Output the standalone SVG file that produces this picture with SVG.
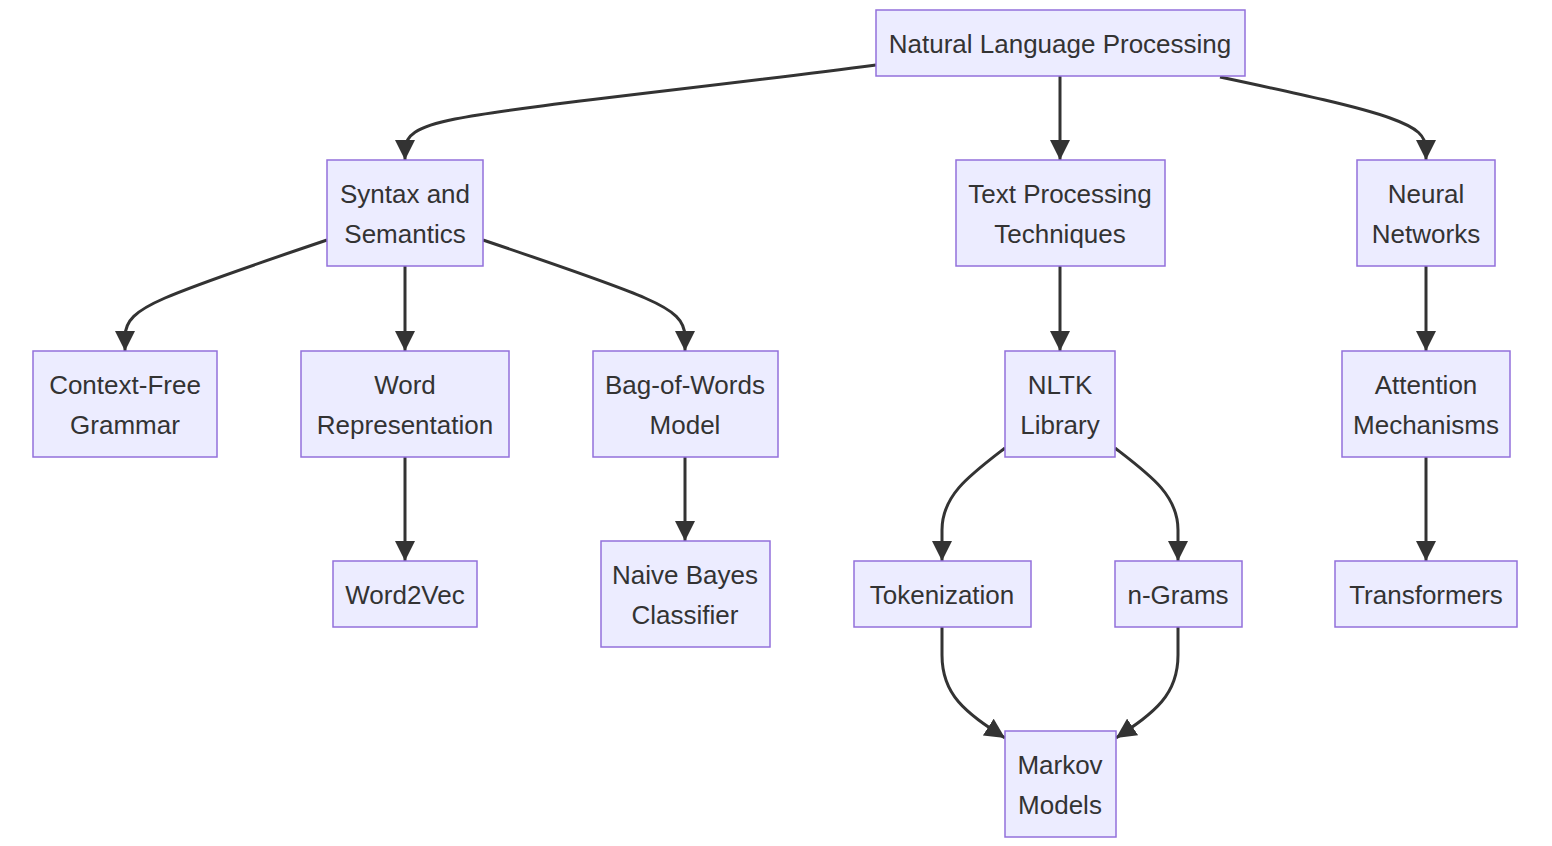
<svg xmlns="http://www.w3.org/2000/svg" width="1552" height="846" viewBox="0 0 1552 846">
<style>
.node rect{fill:#ECECFF;stroke:#9370DB;stroke-width:1.5}
.node text{font-family:"Liberation Sans",Arial,sans-serif;font-size:26px;fill:#333;text-anchor:middle}
.edges path{fill:none;stroke:#333;stroke-width:3}
</style>
<defs>
<marker id="arrow" viewBox="0 0 10 10" refX="10" refY="5" markerUnits="userSpaceOnUse" markerWidth="20" markerHeight="20" orient="auto">
<path d="M0,0 L10,5 L0,10 z" fill="#333"/>
</marker>
</defs>
<rect width="1552" height="846" fill="#fff"/>
<g class="edges">
<path marker-end="url(#arrow)" d="M876,65 C700,88 520,106 455,119 C415,127 405,136 405,150 L405,160"/>
<path marker-end="url(#arrow)" d="M1060,76 L1060,160"/>
<path marker-end="url(#arrow)" d="M1220,77 C1300,94 1360,107 1390,118 C1418,128 1426,136 1426,150 L1426,160"/>
<path marker-end="url(#arrow)" d="M327,240 C250,266 190,287 165,298 C135,311 125,321 125,337 L125,351"/>
<path marker-end="url(#arrow)" d="M405,266 L405,351"/>
<path marker-end="url(#arrow)" d="M483,240 C560,266 620,287 645,298 C675,311 685,321 685,337 L685,351"/>
<path marker-end="url(#arrow)" d="M1060,266 L1060,351"/>
<path marker-end="url(#arrow)" d="M1426,266 L1426,351"/>
<path marker-end="url(#arrow)" d="M405,457 L405,561"/>
<path marker-end="url(#arrow)" d="M685,457 L685,541"/>
<path marker-end="url(#arrow)" d="M1426,457 L1426,561"/>
<path marker-end="url(#arrow)" d="M1005,448 C970,475 942,495 942,530 L942,561"/>
<path marker-end="url(#arrow)" d="M1115,448 C1150,475 1178,495 1178,530 L1178,561"/>
<path marker-end="url(#arrow)" d="M942,627 L942,655 C942,695 965,712 1005,738"/>
<path marker-end="url(#arrow)" d="M1178,627 L1178,655 C1178,695 1155,712 1116,738"/>
</g>
<g id="nlp" class="node"><rect x="876" y="10" width="369" height="66"/><text x="1060" y="53">Natural Language Processing</text></g>
<g id="syntax" class="node"><rect x="327" y="160" width="156" height="106"/><text x="405" y="203">Syntax and</text><text x="405" y="243">Semantics</text></g>
<g id="textproc" class="node"><rect x="956" y="160" width="209" height="106"/><text x="1060" y="203">Text Processing</text><text x="1060" y="243">Techniques</text></g>
<g id="neural" class="node"><rect x="1357" y="160" width="138" height="106"/><text x="1426" y="203">Neural</text><text x="1426" y="243">Networks</text></g>
<g id="cfg" class="node"><rect x="33" y="351" width="184" height="106"/><text x="125" y="394">Context-Free</text><text x="125" y="434">Grammar</text></g>
<g id="wordrep" class="node"><rect x="301" y="351" width="208" height="106"/><text x="405" y="394">Word</text><text x="405" y="434">Representation</text></g>
<g id="bow" class="node"><rect x="593" y="351" width="185" height="106"/><text x="685" y="394">Bag-of-Words</text><text x="685" y="434">Model</text></g>
<g id="nltk" class="node"><rect x="1005" y="351" width="110" height="106"/><text x="1060" y="394">NLTK</text><text x="1060" y="434">Library</text></g>
<g id="attention" class="node"><rect x="1342" y="351" width="168" height="106"/><text x="1426" y="394">Attention</text><text x="1426" y="434">Mechanisms</text></g>
<g id="word2vec" class="node"><rect x="333" y="561" width="144" height="66"/><text x="405" y="604">Word2Vec</text></g>
<g id="naivebayes" class="node"><rect x="601" y="541" width="169" height="106"/><text x="685" y="584">Naive Bayes</text><text x="685" y="624">Classifier</text></g>
<g id="tokenization" class="node"><rect x="854" y="561" width="177" height="66"/><text x="942" y="604">Tokenization</text></g>
<g id="ngrams" class="node"><rect x="1115" y="561" width="127" height="66"/><text x="1178" y="604">n-Grams</text></g>
<g id="transformers" class="node"><rect x="1335" y="561" width="182" height="66"/><text x="1426" y="604">Transformers</text></g>
<g id="markov" class="node"><rect x="1005" y="731" width="111" height="106"/><text x="1060" y="774">Markov</text><text x="1060" y="814">Models</text></g>
</svg>
